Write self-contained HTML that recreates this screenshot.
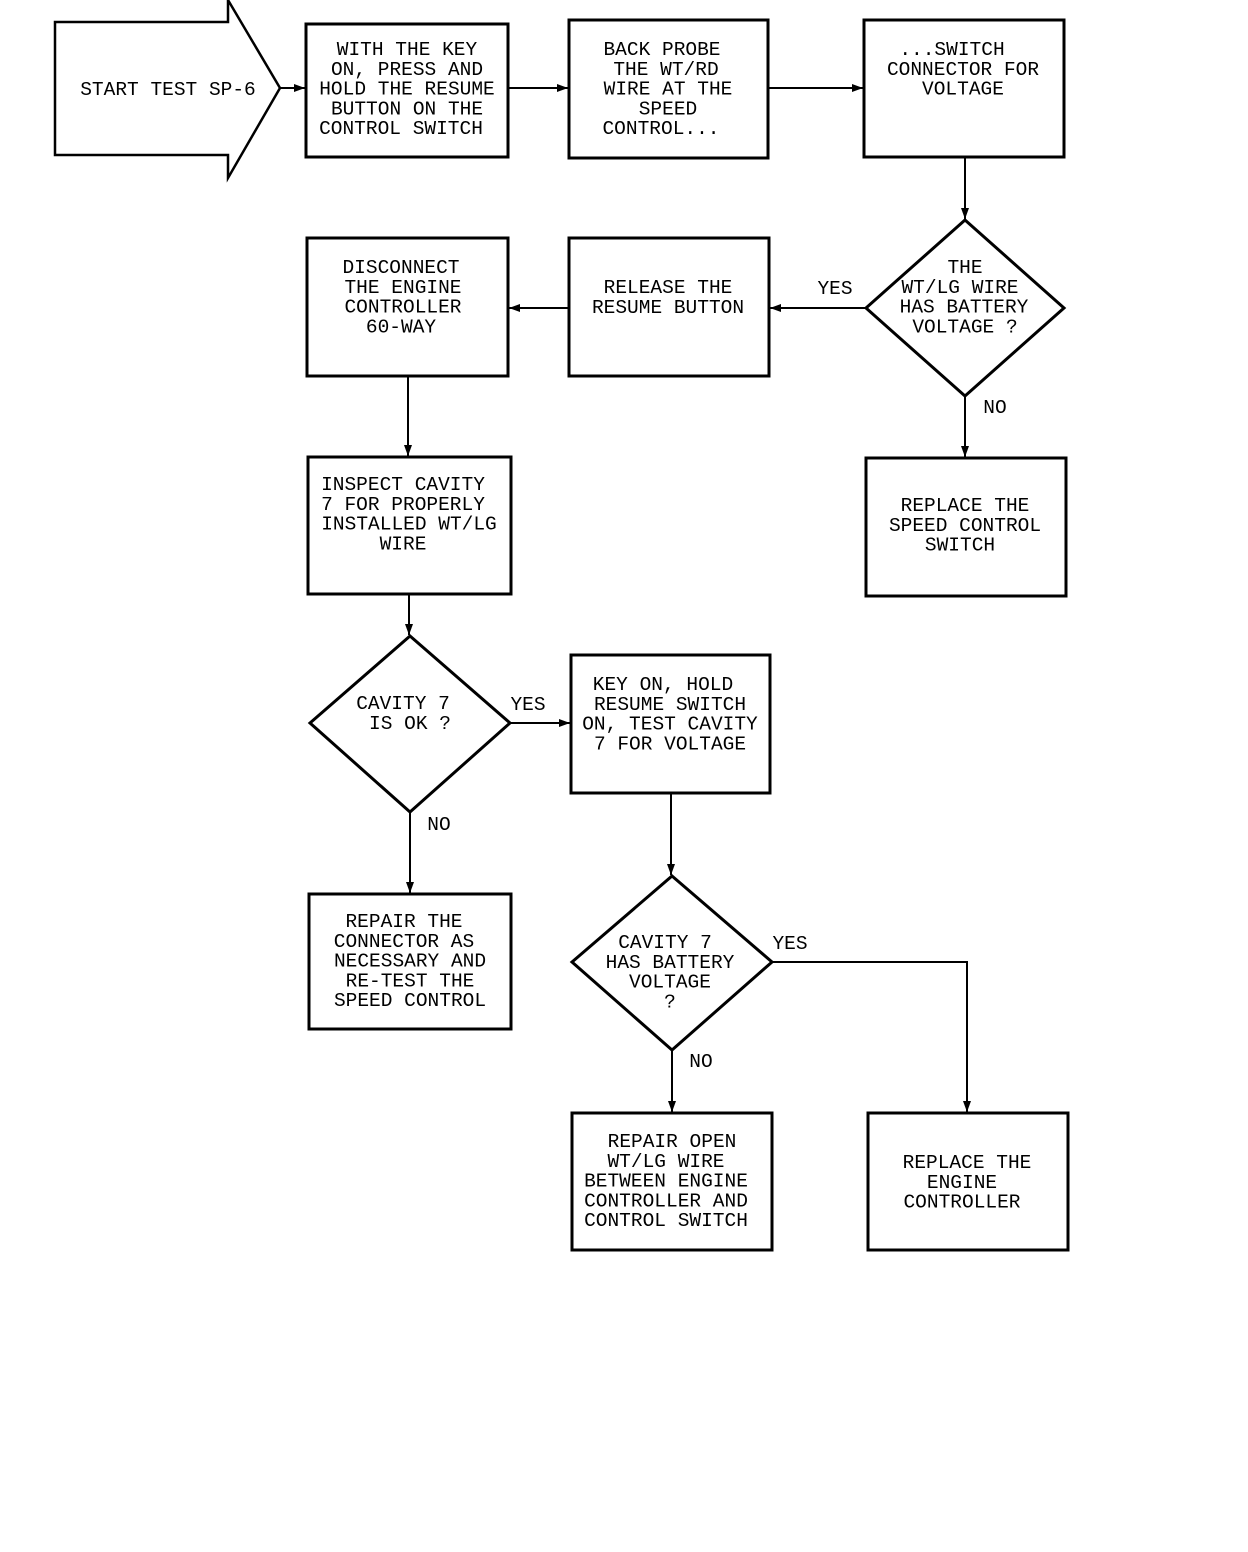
<!DOCTYPE html>
<html><head><meta charset="utf-8"><style>
html,body{margin:0;padding:0;background:#fff;}
svg{display:block;}
text{font-family:"Liberation Mono",monospace;font-size:19.5px;fill:#000;}
</style></head><body>
<svg width="1248" height="1552" viewBox="0 0 1248 1552" xmlns="http://www.w3.org/2000/svg">
<defs>
<marker id="a" markerWidth="12" markerHeight="10" refX="11" refY="5" orient="auto" markerUnits="userSpaceOnUse">
<path d="M0,1 L11,5 L0,9 Z" fill="#000"/>
</marker>
</defs>
<g fill="none" stroke="#000" stroke-width="3">
<polygon points="55,22 228,22 228,0 280,88 228,178 228,155 55,155" stroke-width="2.5"/>
<rect x="306" y="24" width="202" height="133"/>
<rect x="569" y="20" width="199" height="138"/>
<rect x="864" y="20" width="200" height="137"/>
<polygon points="965,220 1064,308 965,396 866,308"/>
<rect x="569" y="238" width="200" height="138"/>
<rect x="307" y="238" width="201" height="138"/>
<rect x="308" y="457" width="203" height="137"/>
<rect x="866" y="458" width="200" height="138"/>
<polygon points="410,636 510,723 410,812 310,723"/>
<rect x="571" y="655" width="199" height="138"/>
<rect x="309" y="894" width="202" height="135"/>
<polygon points="672,876 772,962 672,1050 572,962"/>
<rect x="572" y="1113" width="200" height="137"/>
<rect x="868" y="1113" width="200" height="137"/>
</g>
<g fill="none" stroke="#000" stroke-width="2" marker-end="url(#a)">
<line x1="280" y1="88" x2="305" y2="88"/>
<line x1="508" y1="88" x2="568" y2="88"/>
<line x1="768" y1="88" x2="863" y2="88"/>
<line x1="965" y1="157" x2="965" y2="219"/>
<line x1="866" y1="308" x2="770" y2="308"/>
<line x1="569" y1="308" x2="509" y2="308"/>
<line x1="408" y1="376" x2="408" y2="456"/>
<line x1="965" y1="396" x2="965" y2="457"/>
<line x1="409" y1="594" x2="409" y2="635"/>
<line x1="510" y1="723" x2="570" y2="723"/>
<line x1="410" y1="812" x2="410" y2="893"/>
<line x1="671" y1="793" x2="671" y2="875"/>
<polyline points="772,962 967,962 967,1112"/>
<line x1="672" y1="1050" x2="672" y2="1112"/>
</g>
<g text-anchor="middle">
<text x="168" y="95">START TEST SP-6</text>
<text x="407" y="55"><tspan x="407">WITH THE KEY</tspan><tspan x="407" dy="19.8">ON, PRESS AND</tspan><tspan x="407" dy="19.8">HOLD THE RESUME</tspan><tspan x="407" dy="19.8">BUTTON ON THE</tspan><tspan x="401" dy="19.8">CONTROL SWITCH</tspan></text>
<text x="666" y="55"><tspan x="662">BACK PROBE</tspan><tspan x="666" dy="19.8">THE WT/RD</tspan><tspan x="668" dy="19.8">WIRE AT THE</tspan><tspan x="668" dy="19.8">SPEED</tspan><tspan x="661" dy="19.8">CONTROL...</tspan></text>
<text x="963" y="55"><tspan x="952">...SWITCH</tspan><tspan x="963" dy="19.8">CONNECTOR FOR</tspan><tspan x="963" dy="19.8">VOLTAGE</tspan></text>
<text x="965" y="273"><tspan x="965">THE</tspan><tspan x="960" dy="19.8">WT/LG WIRE</tspan><tspan x="964" dy="19.8">HAS BATTERY</tspan><tspan x="965" dy="19.8">VOLTAGE ?</tspan></text>
<text x="668" y="293"><tspan x="668">RELEASE THE</tspan><tspan x="668" dy="19.8">RESUME BUTTON</tspan></text>
<text x="403" y="273"><tspan x="401">DISCONNECT</tspan><tspan x="403" dy="19.8">THE ENGINE</tspan><tspan x="403" dy="19.8">CONTROLLER</tspan><tspan x="401" dy="19.8">60-WAY</tspan></text>
<text x="409" y="490"><tspan x="403">INSPECT CAVITY</tspan><tspan x="403" dy="19.8">7 FOR PROPERLY</tspan><tspan x="409" dy="19.8">INSTALLED WT/LG</tspan><tspan x="403" dy="19.8">WIRE</tspan></text>
<text x="965" y="511"><tspan x="965">REPLACE THE</tspan><tspan x="965" dy="19.8">SPEED CONTROL</tspan><tspan x="960" dy="19.8">SWITCH</tspan></text>
<text x="403" y="709"><tspan x="403">CAVITY 7</tspan><tspan x="410" dy="19.8">IS OK ?</tspan></text>
<text x="670" y="690"><tspan x="663">KEY ON, HOLD</tspan><tspan x="670" dy="19.8">RESUME SWITCH</tspan><tspan x="670" dy="19.8">ON, TEST CAVITY</tspan><tspan x="670" dy="19.8">7 FOR VOLTAGE</tspan></text>
<text x="410" y="927"><tspan x="404">REPAIR THE</tspan><tspan x="404" dy="19.8">CONNECTOR AS</tspan><tspan x="410" dy="19.8">NECESSARY AND</tspan><tspan x="410" dy="19.8">RE-TEST THE</tspan><tspan x="410" dy="19.8">SPEED CONTROL</tspan></text>
<text x="670" y="948"><tspan x="665">CAVITY 7</tspan><tspan x="670" dy="19.8">HAS BATTERY</tspan><tspan x="670" dy="19.8">VOLTAGE</tspan><tspan x="670" dy="19.8">?</tspan></text>
<text x="666" y="1147"><tspan x="672">REPAIR OPEN</tspan><tspan x="666" dy="19.8">WT/LG WIRE</tspan><tspan x="666" dy="19.8">BETWEEN ENGINE</tspan><tspan x="666" dy="19.8">CONTROLLER AND</tspan><tspan x="666" dy="19.8">CONTROL SWITCH</tspan></text>
<text x="967" y="1168"><tspan x="967">REPLACE THE</tspan><tspan x="962" dy="19.8">ENGINE</tspan><tspan x="962" dy="19.8">CONTROLLER</tspan></text>
<text x="835" y="294">YES</text>
<text x="995" y="413">NO</text>
<text x="528" y="710">YES</text>
<text x="439" y="830">NO</text>
<text x="790" y="949">YES</text>
<text x="701" y="1067">NO</text>
</g>
</svg>
</body></html>
